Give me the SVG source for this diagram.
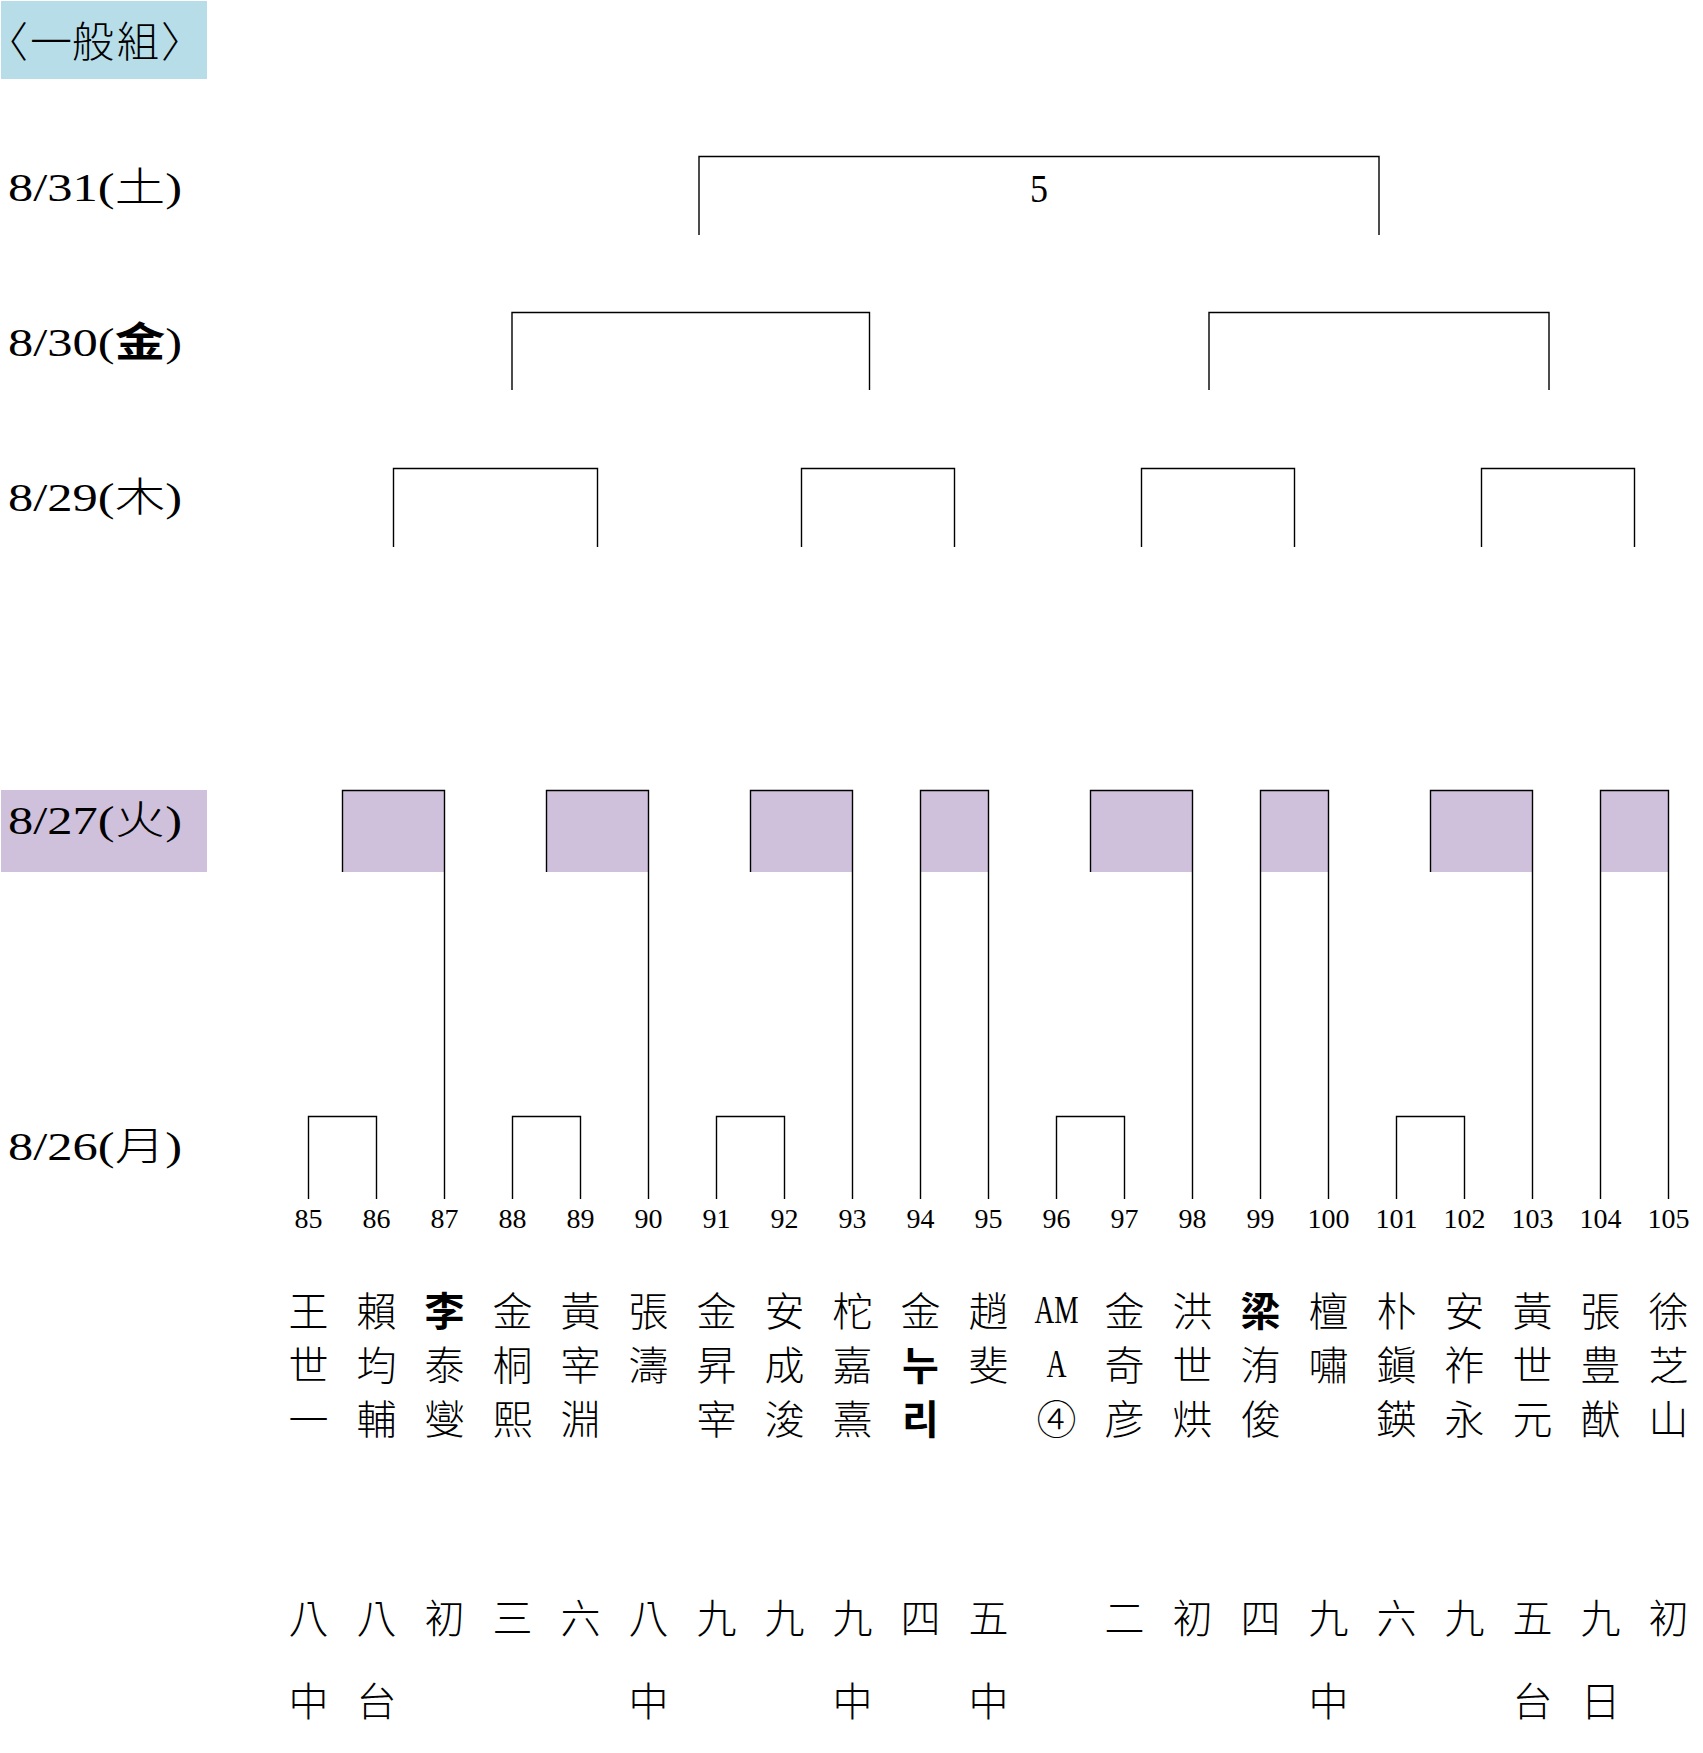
<svg xmlns="http://www.w3.org/2000/svg" width="1703" height="1753" viewBox="0 0 1703 1753">
<style>
.bg{fill:#ffffff}
.line{fill:none;stroke:#000;stroke-width:1.4}
.box{fill:#cfc1db}
.date{font-family:"Liberation Serif","Noto Sans CJK JP",serif;font-size:40px;fill:#000}
.cjk{font-family:"Noto Sans CJK TC","Noto Sans CJK JP",sans-serif}
.num{font-family:"Liberation Serif",serif;font-size:28px;fill:#000;text-anchor:middle}
.nm{font-family:"Noto Sans CJK TC","Noto Sans CJK JP",sans-serif;font-size:40px;font-weight:300;fill:#000;text-anchor:middle}
.hd{font-family:"Noto Sans CJK JP",sans-serif;font-size:42px;font-weight:300;fill:#000;text-anchor:middle}
.br{font-family:"Noto Sans CJK JP",sans-serif;font-size:42px;font-weight:300;fill:#000;font-feature-settings:"palt"}
.b{font-weight:700}
.lat{font-family:"Liberation Serif",serif;font-weight:400}
</style>
<rect class="bg" x="0" y="0" width="1703" height="1753"/>
<g id="header">
<rect x="1" y="1" width="206" height="78" fill="#b7dde8"/>
<text class="br" x="6" y="57">〈</text>
<text class="hd" x="51" y="57">一</text>
<text class="hd" x="93" y="57">般</text>
<text class="hd" x="138" y="57">組</text>
<text class="br" x="162" y="57">〉</text>
</g>
<g id="date-labels">
<rect x="1" y="790" width="206" height="82" class="box"/>
<text class="date" x="8" y="201" textLength="174" lengthAdjust="spacingAndGlyphs">8/31(<tspan class="cjk" font-weight="300">土</tspan>)</text>
<text class="date" x="8" y="356" textLength="174" lengthAdjust="spacingAndGlyphs">8/30(<tspan class="cjk" font-weight="700">金</tspan>)</text>
<text class="date" x="8" y="511" textLength="174" lengthAdjust="spacingAndGlyphs">8/29(<tspan class="cjk" font-weight="300">木</tspan>)</text>
<text class="date" x="8" y="834" textLength="174" lengthAdjust="spacingAndGlyphs">8/27(<tspan class="cjk" font-weight="300">火</tspan>)</text>
<text class="date" x="8" y="1160" textLength="174" lengthAdjust="spacingAndGlyphs">8/26(<tspan class="cjk" font-weight="300">月</tspan>)</text>
</g>
<g id="match-boxes">
<rect class="box" x="342.5" y="790" width="102" height="82"/>
<rect class="box" x="546.5" y="790" width="102" height="82"/>
<rect class="box" x="750.5" y="790" width="102" height="82"/>
<rect class="box" x="920.5" y="790" width="68" height="82"/>
<rect class="box" x="1090.5" y="790" width="102" height="82"/>
<rect class="box" x="1260.5" y="790" width="68" height="82"/>
<rect class="box" x="1430.5" y="790" width="102" height="82"/>
<rect class="box" x="1600.5" y="790" width="68" height="82"/>
</g>
<g id="connectors">
<path class="line" d="M699 235V156.5H1379V235"/>
<path class="line" d="M512 390V312.5H869.5V390"/>
<path class="line" d="M1209 390V312.5H1549V390"/>
<path class="line" d="M393.5 547V468.5H597.5V547"/>
<path class="line" d="M801.5 547V468.5H954.5V547"/>
<path class="line" d="M1141.5 547V468.5H1294.5V547"/>
<path class="line" d="M1481.5 547V468.5H1634.5V547"/>
<path class="line" d="M342.5 872V790.5H444.5V1199"/>
<path class="line" d="M546.5 872V790.5H648.5V1199"/>
<path class="line" d="M750.5 872V790.5H852.5V1199"/>
<path class="line" d="M920.5 1199V790.5H988.5V1199"/>
<path class="line" d="M1090.5 872V790.5H1192.5V1199"/>
<path class="line" d="M1260.5 1199V790.5H1328.5V1199"/>
<path class="line" d="M1430.5 872V790.5H1532.5V1199"/>
<path class="line" d="M1600.5 1199V790.5H1668.5V1199"/>
<path class="line" d="M308.5 1199V1116.5H376.5V1199"/>
<path class="line" d="M512.5 1199V1116.5H580.5V1199"/>
<path class="line" d="M716.5 1199V1116.5H784.5V1199"/>
<path class="line" d="M1056.5 1199V1116.5H1124.5V1199"/>
<path class="line" d="M1396.5 1199V1116.5H1464.5V1199"/>
</g>
<g id="final">
<text x="1039" y="202" font-family="Liberation Serif,serif" font-size="40" text-anchor="middle" textLength="18" lengthAdjust="spacingAndGlyphs">5</text>
</g>
<g id="p85"><text class="num" x="308.5" y="1228">85</text><text class="nm" x="308.5" y="1326">王</text><text class="nm" x="308.5" y="1380">世</text><text class="nm" x="308.5" y="1434">一</text><text class="nm" x="308.5" y="1633">八</text><text class="nm" x="308.5" y="1716">中</text></g>
<g id="p86"><text class="num" x="376.5" y="1228">86</text><text class="nm" x="376.5" y="1326">賴</text><text class="nm" x="376.5" y="1380">均</text><text class="nm" x="376.5" y="1434">輔</text><text class="nm" x="376.5" y="1633">八</text><text class="nm" x="376.5" y="1716">台</text></g>
<g id="p87"><text class="num" x="444.5" y="1228">87</text><text class="nm b" x="444.5" y="1326">李</text><text class="nm" x="444.5" y="1380">泰</text><text class="nm" x="444.5" y="1434">燮</text><text class="nm" x="444.5" y="1633">初</text></g>
<g id="p88"><text class="num" x="512.5" y="1228">88</text><text class="nm" x="512.5" y="1326">金</text><text class="nm" x="512.5" y="1380">桐</text><text class="nm" x="512.5" y="1434">熙</text><text class="nm" x="512.5" y="1633">三</text></g>
<g id="p89"><text class="num" x="580.5" y="1228">89</text><text class="nm" x="580.5" y="1326">黃</text><text class="nm" x="580.5" y="1380">宰</text><text class="nm" x="580.5" y="1434">淵</text><text class="nm" x="580.5" y="1633">六</text></g>
<g id="p90"><text class="num" x="648.5" y="1228">90</text><text class="nm" x="648.5" y="1326">張</text><text class="nm" x="648.5" y="1380">濤</text><text class="nm" x="648.5" y="1633">八</text><text class="nm" x="648.5" y="1716">中</text></g>
<g id="p91"><text class="num" x="716.5" y="1228">91</text><text class="nm" x="716.5" y="1326">金</text><text class="nm" x="716.5" y="1380">昇</text><text class="nm" x="716.5" y="1434">宰</text><text class="nm" x="716.5" y="1633">九</text></g>
<g id="p92"><text class="num" x="784.5" y="1228">92</text><text class="nm" x="784.5" y="1326">安</text><text class="nm" x="784.5" y="1380">成</text><text class="nm" x="784.5" y="1434">浚</text><text class="nm" x="784.5" y="1633">九</text></g>
<g id="p93"><text class="num" x="852.5" y="1228">93</text><text class="nm" x="852.5" y="1326">柁</text><text class="nm" x="852.5" y="1380">嘉</text><text class="nm" x="852.5" y="1434">熹</text><text class="nm" x="852.5" y="1633">九</text><text class="nm" x="852.5" y="1716">中</text></g>
<g id="p94"><text class="num" x="920.5" y="1228">94</text><text class="nm" x="920.5" y="1326">金</text><text class="nm b" x="920.5" y="1380" font-family="Noto Sans CJK KR,sans-serif">누</text><text class="nm b" x="920.5" y="1434" font-family="Noto Sans CJK KR,sans-serif">리</text><text class="nm" x="920.5" y="1633">四</text></g>
<g id="p95"><text class="num" x="988.5" y="1228">95</text><text class="nm" x="988.5" y="1326">趙</text><text class="nm" x="988.5" y="1380">斐</text><text class="nm" x="988.5" y="1633">五</text><text class="nm" x="988.5" y="1716">中</text></g>
<g id="p96"><text class="num" x="1056.5" y="1228">96</text><text class="nm lat" x="1056.5" y="1323" font-size="36" textLength="44" lengthAdjust="spacingAndGlyphs">AM</text><text class="nm lat" x="1056.5" y="1377" font-size="36" textLength="20" lengthAdjust="spacingAndGlyphs">A</text><text class="nm" x="1056.5" y="1434">④</text></g>
<g id="p97"><text class="num" x="1124.5" y="1228">97</text><text class="nm" x="1124.5" y="1326">金</text><text class="nm" x="1124.5" y="1380">奇</text><text class="nm" x="1124.5" y="1434">彦</text><text class="nm" x="1124.5" y="1633">二</text></g>
<g id="p98"><text class="num" x="1192.5" y="1228">98</text><text class="nm" x="1192.5" y="1326">洪</text><text class="nm" x="1192.5" y="1380">世</text><text class="nm" x="1192.5" y="1434">烘</text><text class="nm" x="1192.5" y="1633">初</text></g>
<g id="p99"><text class="num" x="1260.5" y="1228">99</text><text class="nm b" x="1260.5" y="1326">梁</text><text class="nm" x="1260.5" y="1380">洧</text><text class="nm" x="1260.5" y="1434">俊</text><text class="nm" x="1260.5" y="1633">四</text></g>
<g id="p100"><text class="num" x="1328.5" y="1228">100</text><text class="nm" x="1328.5" y="1326">檀</text><text class="nm" x="1328.5" y="1380">嘯</text><text class="nm" x="1328.5" y="1633">九</text><text class="nm" x="1328.5" y="1716">中</text></g>
<g id="p101"><text class="num" x="1396.5" y="1228">101</text><text class="nm" x="1396.5" y="1326">朴</text><text class="nm" x="1396.5" y="1380">鎭</text><text class="nm" x="1396.5" y="1434">鍈</text><text class="nm" x="1396.5" y="1633">六</text></g>
<g id="p102"><text class="num" x="1464.5" y="1228">102</text><text class="nm" x="1464.5" y="1326">安</text><text class="nm" x="1464.5" y="1380">祚</text><text class="nm" x="1464.5" y="1434">永</text><text class="nm" x="1464.5" y="1633">九</text></g>
<g id="p103"><text class="num" x="1532.5" y="1228">103</text><text class="nm" x="1532.5" y="1326">黃</text><text class="nm" x="1532.5" y="1380">世</text><text class="nm" x="1532.5" y="1434">元</text><text class="nm" x="1532.5" y="1633">五</text><text class="nm" x="1532.5" y="1716">台</text></g>
<g id="p104"><text class="num" x="1600.5" y="1228">104</text><text class="nm" x="1600.5" y="1326">張</text><text class="nm" x="1600.5" y="1380">豊</text><text class="nm" x="1600.5" y="1434">猷</text><text class="nm" x="1600.5" y="1633">九</text><text class="nm" x="1600.5" y="1716">日</text></g>
<g id="p105"><text class="num" x="1668.5" y="1228">105</text><text class="nm" x="1668.5" y="1326">徐</text><text class="nm" x="1668.5" y="1380">芝</text><text class="nm" x="1668.5" y="1434">山</text><text class="nm" x="1668.5" y="1633">初</text></g>
</svg>
